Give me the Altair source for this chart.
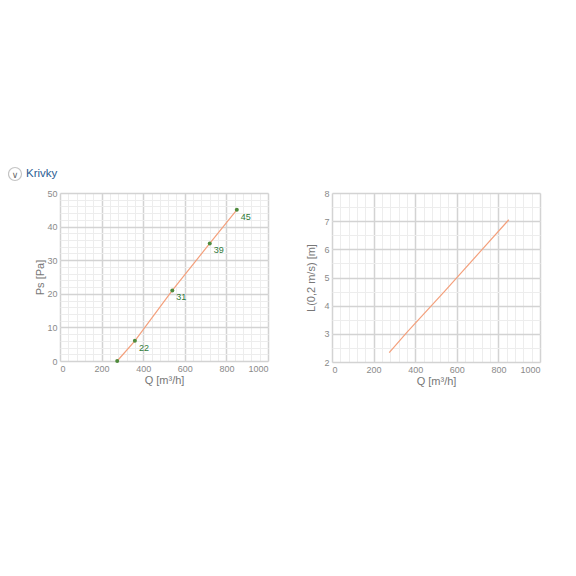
import altair as alt
import pandas as pd

Q = [275, 360, 540, 720, 850]
PS = [0, 6, 21, 35, 45]
PS_LABELS = ["", "22", "31", "39", "45"]
L = [2.33, 3.05, 4.5, 5.98, 7.05]

X_MAJOR = [0, 200, 400, 600, 800, 1000]
X_MINOR = list(range(0, 1001, 40))
PS_MAJOR = [0, 10, 20, 30, 40, 50]
PS_MINOR = list(range(0, 51, 2))
L_MAJOR = [2, 3, 4, 5, 6, 7, 8]
L_MINOR = [2 + 0.5 * i for i in range(13)]

df = pd.DataFrame({"Q": Q, "Ps": PS, "lab": PS_LABELS, "L": L})
hdr = pd.DataFrame({"t": ["Krivky"], "c": ["∨"]})

LINE_C = "#f4a07c"
PT_C = "#4f8a3c"
LAB_C = "#2f7a3a"
AX_LAB = "#8a8a8a"
AX_TITLE = "#777777"


def minor_axis(vals, orient):
    return alt.Axis(values=vals, labels=False, ticks=False, domain=False, grid=True,
                    gridColor="#ededed", gridWidth=1, orient=orient, title=None)


def major_axis(vals, orient, title, tpad):
    return alt.Axis(values=vals, format="d", ticks=False, domain=False, grid=True,
                    gridColor="#d3d3d3", gridWidth=1.5, orient=orient, title=title,
                    labelColor=AX_LAB, labelFontSize=9, labelPadding=3,
                    titleColor=AX_TITLE, titleFontSize=11, titleFontWeight="normal",
                    titlePadding=tpad, labelFont="Liberation Sans",
                    titleFont="Liberation Sans")


def panel(yfield, ydom, ymajor, yminor, ytitle, ytpad, points, header, h):
    xs = alt.Scale(domain=[0, 1000], nice=False, zero=False)
    ys = alt.Scale(domain=ydom, nice=False, zero=False)
    base = alt.Chart(df)
    minor = base.mark_line(opacity=0).encode(
        x=alt.X("Q:Q", scale=xs, axis=minor_axis(X_MINOR, "top")),
        y=alt.Y(f"{yfield}:Q", scale=ys, axis=minor_axis(yminor, "right")),
    )
    line = base.mark_line(color=LINE_C, strokeWidth=1.2).encode(
        x=alt.X("Q:Q", scale=xs, axis=major_axis(X_MAJOR, "bottom", "Q [m³/h]", 1)),
        y=alt.Y(f"{yfield}:Q", scale=ys, axis=major_axis(ymajor, "left", ytitle, ytpad)),
    )
    layers = [minor, line]
    if points:
        layers.append(base.mark_circle(color=PT_C, size=16, opacity=1).encode(
            x=alt.X("Q:Q", axis=None), y=alt.Y(f"{yfield}:Q", axis=None)))
        layers.append(base.mark_text(color=LAB_C, fontSize=9, align="left", dx=4, dy=7,
                                     font="Liberation Sans").encode(
            x=alt.X("Q:Q", axis=None), y=alt.Y(f"{yfield}:Q", axis=None), text="lab:N"))
    if header:
        hb = alt.Chart(hdr)
        layers.append(hb.mark_point(shape="circle", filled=False, size=170, color="#c4c4c4",
                                    strokeWidth=1.2, opacity=1).encode(
            x=alt.value(-45), y=alt.value(-19)))
        layers.append(hb.mark_text(align="center", baseline="middle", fontSize=9,
                                   color="#666666", font="DejaVu Sans").encode(
            x=alt.value(-45), y=alt.value(-18.5), text="c:N"))
        layers.append(hb.mark_text(align="left", baseline="middle", fontSize=11.5,
                                   color="#2b5c92", font="Liberation Sans").encode(
            x=alt.value(-34), y=alt.value(-19), text="t:N"))
    return alt.layer(*layers).resolve_axis(x="independent", y="independent").properties(
        width=208, height=h)


left = panel("Ps", [0, 50], PS_MAJOR, PS_MINOR, "Ps [Pa]", 1, True, True, 168)
right = panel("L", [2, 8], L_MAJOR, L_MINOR, "L(0,2 m/s) [m]", 7, False, False, 169)

chart = alt.hconcat(left, right, spacing=64, bounds="flush").properties(
    padding={"left": -3, "top": 156, "right": 5, "bottom": 5}
).configure_view(stroke="#cfcfcf", strokeWidth=1.5).configure(background="white")

chart.save("out.html", embed_options={"renderer": "svg", "actions": False})
